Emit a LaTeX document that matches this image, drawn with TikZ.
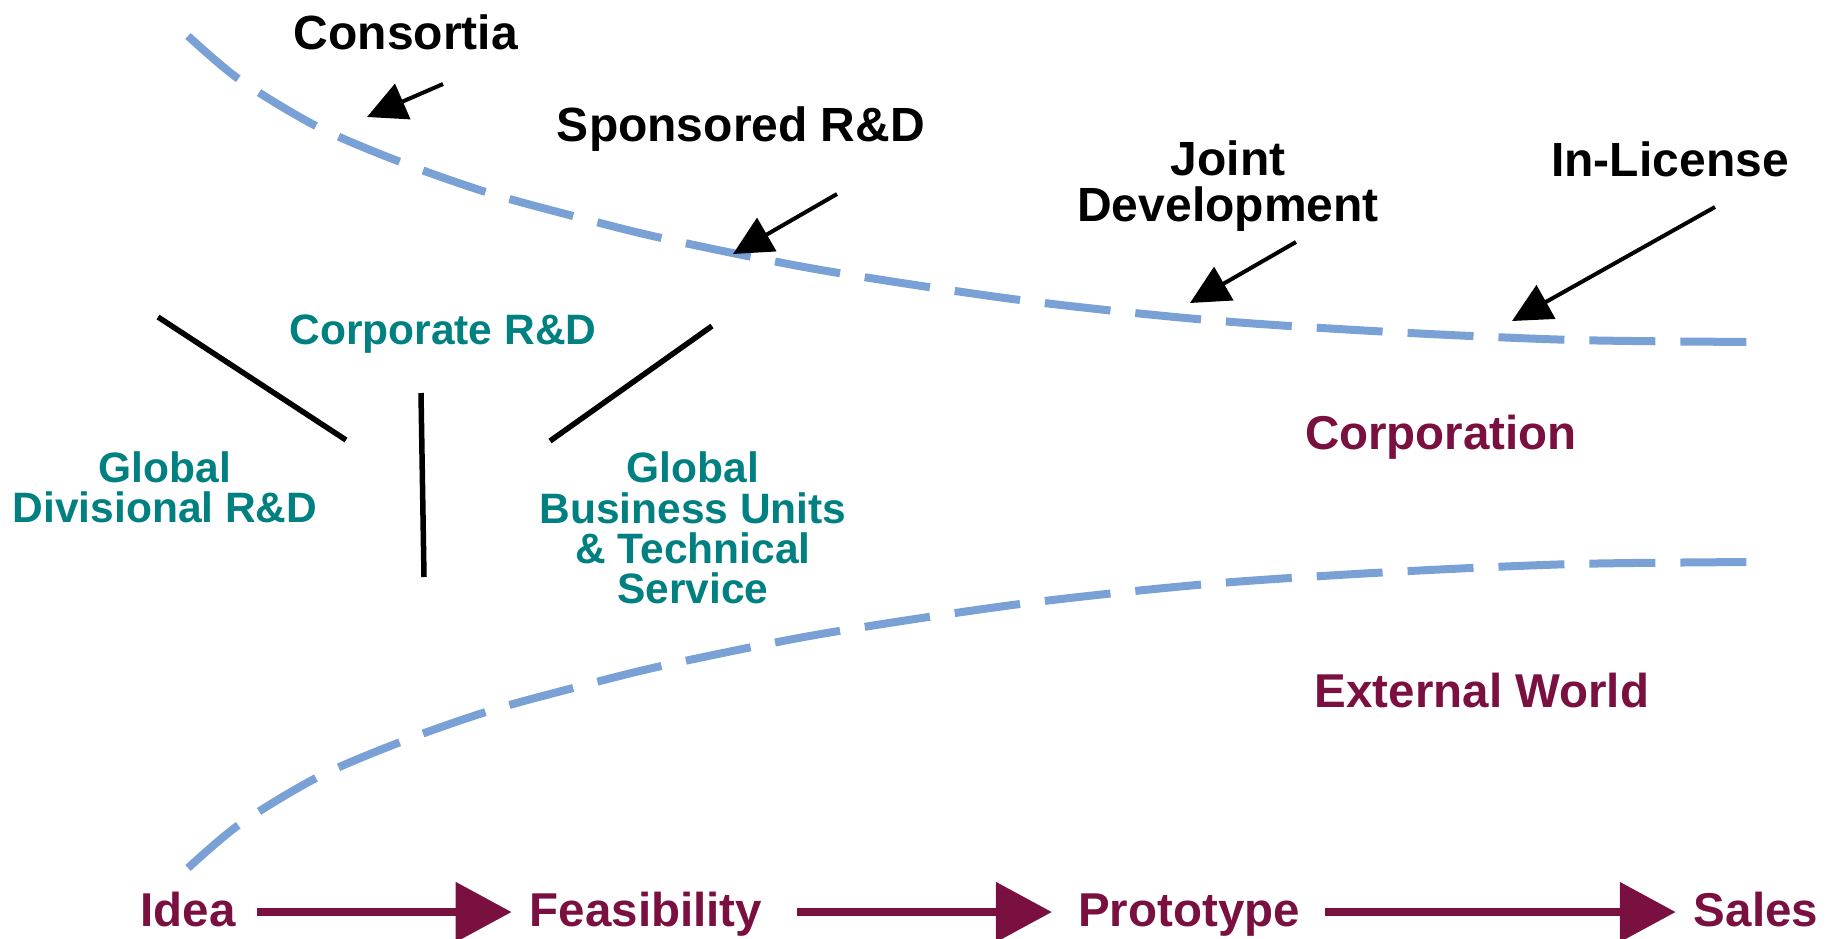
\documentclass[tikz,border=0pt]{standalone}
\usepackage{fontspec}
\setmainfont{Liberation Sans}
\usetikzlibrary{arrows.meta}
\definecolor{curveblue}{RGB}{122,161,213}
\definecolor{tealc}{RGB}{0,128,128}
\definecolor{maroonc}{RGB}{122,16,64}
\begin{document}
\begin{tikzpicture}[x=1pt,y=-1pt,
  blacklbl/.style={font=\fontsize{48}{46}\selectfont\bfseries, text=black, inner sep=0pt, align=center},
  teallbl/.style={font=\fontsize{42.5}{40.3}\selectfont\bfseries, text=tealc, inner sep=0pt, align=center},
  maroonlbl/.style={font=\fontsize{47.5}{46}\selectfont\bfseries, text=maroonc, inner sep=0pt},
  boundary/.style={draw=curveblue, line width=8pt, dash pattern=on 66pt off 25pt},
  pointer/.style={draw=black, line width=4pt, -{Triangle[length=39pt,width=38pt]}},
  flow/.style={draw=maroonc, line width=8.5pt, -{Triangle[length=56pt,width=58pt]}},
  yline/.style={draw=black, line width=5.5pt}]
\useasboundingbox (0,0) rectangle (1839,938);

% boundary curves
\draw[boundary] plot[smooth, tension=0.5] coordinates {(188,36) (240,80) (318,127) (403,163) (489,193) (577,217) (666,239) (821,270) (1020,300) (1208,320) (1391,332) (1574,340) (1757,342)};
\draw[boundary] plot[smooth, tension=0.5] coordinates {(188,868) (240,824) (318,777) (403,741) (489,711) (577,687) (666,665) (821,634) (1020,604) (1208,584) (1391,572) (1574,564) (1757,562)};

% black labels
\node[blacklbl, anchor=base] (consortia) at (406,49) {Consortia};
\node[blacklbl, anchor=base] (sponsored) at (741,141) {Sponsored R\&D};
\node[blacklbl] (joint) at (1228,186.5) {Joint\\Development};
\node[blacklbl, anchor=base] (inlicense) at (1670,176) {In-License};

% pointer arrows
\coordinate (c1s) at (443,84);  \coordinate (c1e) at (367,117);
\coordinate (c2s) at (837,194); \coordinate (c2e) at (733,254);
\coordinate (c3s) at (1296,242); \coordinate (c3e) at (1190,303);
\coordinate (c4s) at (1715,207); \coordinate (c4e) at (1512,321);
\draw[pointer] (c1s) -- (c1e);
\draw[pointer] (c2s) -- (c2e);
\draw[pointer] (c3s) -- (c3e);
\draw[pointer] (c4s) -- (c4e);

% teal labels
\node[teallbl, anchor=base] (corprd) at (443,344) {Corporate R\&D};
\node[teallbl] (divrd) at (165,487.5) {Global\\Divisional R\&D};
\node[teallbl] (bu) at (693,528) {Global\\Business Units\\\& Technical\\Service};

% Y lines
\coordinate (y1a) at (158,317); \coordinate (y1b) at (346,440);
\coordinate (y2a) at (421,393); \coordinate (y2b) at (424,577);
\coordinate (y3a) at (712,326); \coordinate (y3b) at (550,441);
\draw[yline] (y1a) -- (y1b);
\draw[yline] (y2a) -- (y2b);
\draw[yline] (y3a) -- (y3b);

% maroon labels
\node[maroonlbl, anchor=base] (corp) at (1441,449) {Corporation};
\node[maroonlbl, anchor=base] (ext) at (1482,707) {External World};

% bottom flow
\node[maroonlbl, anchor=base] (idea) at (188,926) {Idea};
\node[maroonlbl, anchor=base] (feas) at (646,926) {Feasibility};
\node[maroonlbl, anchor=base] (proto) at (1189,926) {Prototype};
\node[maroonlbl, anchor=base] (sales) at (1756,926) {Sales};
\draw[flow, shorten <=21pt, shorten >=18pt] ([yshift=-3pt]idea.east) -- ([yshift=-3pt]idea.east -| feas.west);
\draw[flow, shorten <=35pt, shorten >=26pt] ([yshift=-3pt]idea.east -| feas.east) -- ([yshift=-3pt]idea.east -| proto.west);
\draw[flow, shorten <=25pt, shorten >=18pt] ([yshift=-3pt]idea.east -| proto.east) -- ([yshift=-3pt]idea.east -| sales.west);
\end{tikzpicture}
\end{document}
